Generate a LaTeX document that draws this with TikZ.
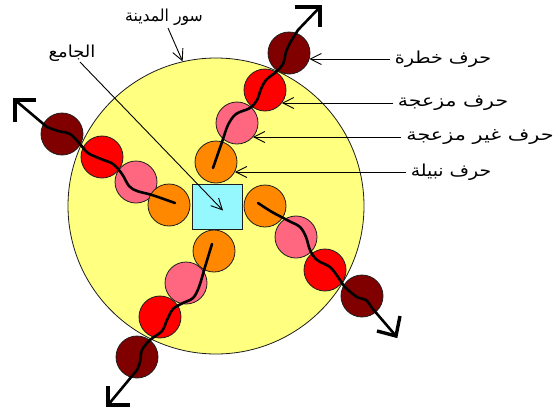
\documentclass[tikz,border=0pt]{standalone}
\usepackage{graphicx}
\usepackage{fontspec}
\newfontfamily\arabicfont[Script=Arabic]{DejaVu Sans}
\TeXXeTstate=1
\usetikzlibrary{arrows.meta,calc}
\definecolor{wallyellow}{RGB}{255,255,128}
\definecolor{mosquecyan}{RGB}{150,248,255}
\definecolor{nobleorange}{RGB}{255,136,0}
\definecolor{mildpink}{RGB}{255,102,128}
\definecolor{annoyred}{RGB}{255,0,0}
\definecolor{dangerred}{RGB}{128,0,0}
\definecolor{edge}{RGB}{30,30,30}
\tikzset{
  ball/.style={circle, draw=edge, line width=0.8pt, minimum size=42pt, inner sep=0pt},
  noble/.style={ball, fill=nobleorange},
  mild/.style={ball, fill=mildpink},
  annoy/.style={ball, fill=annoyred},
  danger/.style={ball, fill=dangerred},
  lbl/.style={font=\arabicfont\fontsize{16.5pt}{19pt}\selectfont, inner xsep=5pt, inner ysep=2pt},
  lblarrow/.style={draw=black, line width=0.9pt, -{Straight Barb[length=11pt,width=11pt,line width=0.9pt]}},
  wave/.style={draw=black, line width=2.6pt, line cap=round, line join=round},
  tiphead/.style={draw=black, line width=3.4pt, line join=miter, line cap=butt}
}
\begin{document}
\begin{tikzpicture}[x=1pt,y=-1pt]
\useasboundingbox (0,0) rectangle (553,413);
\fill[white] (0,0) rectangle (553,413);

% city wall
\node[circle, draw=edge, line width=0.8pt, fill=wallyellow, minimum size=296pt, inner sep=0pt] (wall) at (216,206) {};

% up arm
\node[danger] (d1) at (289,53) {};
\node[annoy]  (r1) at (265,90) {};
\node[mild]   (p1) at (237,123) {};
\node[noble]  (o1) at (216,162) {};
% left arm
\node[danger] (d2) at (62,134) {};
\node[annoy]  (r2) at (102,157) {};
\node[mild]   (p2) at (136,182) {};
\node[noble]  (o2) at (169,205) {};
% down arm
\node[danger] (d3) at (137,357) {};
\node[annoy]  (r3) at (160,317) {};
\node[mild]   (p3) at (186,283) {};
\node[noble]  (o3) at (214,251) {};
% right arm
\node[danger] (d4) at (362,296) {};
\node[annoy]  (r4) at (325,270) {};
\node[mild]   (p4) at (296,237) {};
\node[noble]  (o4) at (265,206) {};

% mosque
\node[draw=edge, line width=0.8pt, fill=mosquecyan, minimum width=50pt, minimum height=45pt, inner sep=0pt] (mosque) at (217,206.5) {};

% arrow tips
\coordinate (tU) at (320,7);
\coordinate (tL) at (15,100);
\coordinate (tD) at (108,405);
\coordinate (tR) at (396,336);

% waves
\draw[wave] plot[smooth, tension=0.55] coordinates {(213,168) (222,142) (228,125) (236,114) (250,108) (257,100) (261,89) (266,80) (276,72) (283,64) (286,52) (290,43) (298,30)} -- (tU);
\draw[wave] plot[smooth, tension=0.55] coordinates {(175,203) (152,195) (137,191) (129,186) (122,174) (113,164) (101,159) (88,153) (80,144) (70,134) (58,131) (47,127)} -- (tL);
\draw[wave] plot[smooth, tension=0.55] coordinates {(212,244) (205,267) (199,287) (193,298) (183,303) (173,309) (167,320) (162,331) (150,340) (142,350) (140,362) (137,370)} -- (tD);
\draw[wave] plot[smooth, tension=0.55] coordinates {(258,203) (272,212) (289,221) (300,227) (306,237) (310,250) (317,260) (330,267) (338,277) (345,287) (357,297) (366,300) (372,308)} -- (tR);

% heads
\draw[tiphead] ($(tU)+(-25,0)$) -- (tU) -- ($(tU)+(0,20)$);
\draw[tiphead] ($(tL)+(21,0)$) -- (tL) -- ($(tL)+(0,22)$);
\draw[tiphead] ($(tD)+(0,-19)$) -- (tD) -- ($(tD)+(22,0)$);
\draw[tiphead] ($(tR)+(4,-20)$) -- (tR) -- ($(tR)+(-19,-5)$);

% labels
\node[lbl] (lWall) at (164,17) {\scalebox{0.95}[1]{\beginR سور المدينة\endR}};
\node[lbl] (lJam) at (72,53) {\scalebox{1.09}[1]{\beginR الجامع\endR}};
\node[lbl] (lA) at (443,59) {\scalebox{1.16}[1]{\beginR حرف خطرة\endR}};
\node[lbl] (lB) at (453,103) {\scalebox{1.24}[1]{\beginR حرف مزعجة\endR}};
\node[lbl] (lC) at (480,137) {\scalebox{1.26}[1]{\beginR حرف غير مزعجة\endR}};
\node[lbl] (lD) at (451,172) {\scalebox{1.14}[1]{\beginR حرف نبيلة\endR}};

\coordinate (eA) at (d1.-17);
\coordinate (eB) at (r1.-38);
\coordinate (eC) at (p1.-42);
\coordinate (eD) at (o1.-28);
\draw[lblarrow] (lA.west) -- (eA |- lA.west);
\draw[lblarrow] (lB.west) -- (eB |- lB.west);
\draw[lblarrow] (lC.west) -- (eC |- lC.west);
\draw[lblarrow] (lD.west) -- (eD |- lD.west);
\draw[lblarrow] ($(lWall.center)+(4,11)$) -- (wall.103);
\draw[lblarrow] ($(lJam.center)+(8,9)$) -- ($(mosque.center)+(6,4)$);
\end{tikzpicture}
\end{document}
